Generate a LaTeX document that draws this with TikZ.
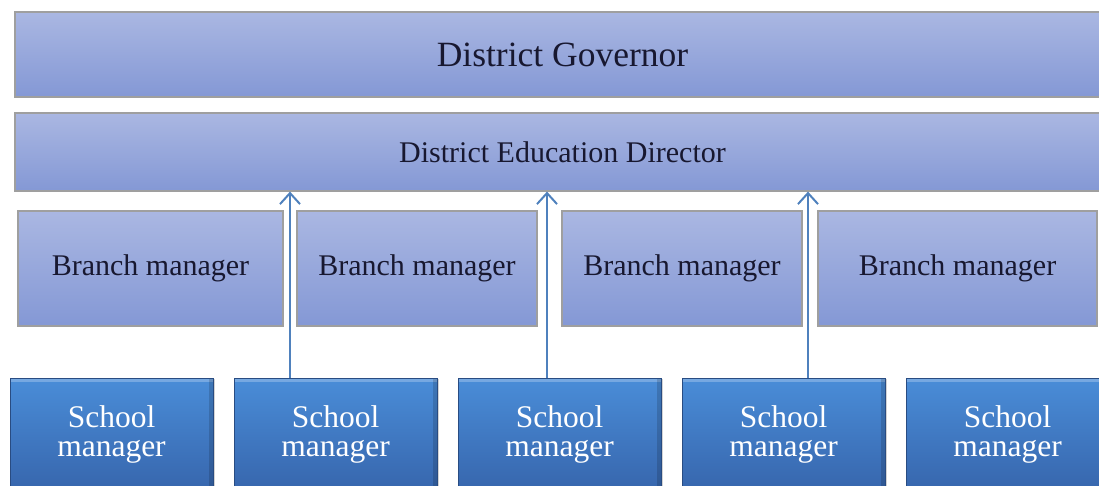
\documentclass[tikz,border=0pt]{standalone}
\usepackage{fontspec}
\setmainfont{Liberation Serif}
\usetikzlibrary{arrows.meta,shadows}
\definecolor{lavtop}{HTML}{AAB7E2}
\definecolor{lavbot}{HTML}{8498D5}
\definecolor{schtop}{HTML}{4A8DD8}
\definecolor{schbot}{HTML}{3766AD}
\definecolor{arrowblue}{HTML}{4F81BD}
\definecolor{textdark}{HTML}{181830}
\tikzstyle{office} = [rectangle, draw=gray!75, line width=1.2pt, top color=lavtop, bottom color=lavbot,
    text=textdark, inner sep=0pt, drop shadow={shadow xshift=1pt, shadow yshift=-1pt, opacity=0.3}]
\tikzstyle{branch} = [office, minimum height=115pt, font=\fontsize{30}{31}\selectfont]
\tikzstyle{school} = [rectangle, draw=schbot!75!black, line width=0.8pt, top color=schtop, bottom color=schbot,
    text=white, text width=190pt, text centered, minimum width=203pt, minimum height=112pt, inner sep=0pt,
    font=\fontsize{31.5}{29}\selectfont, node distance=224pt,
    drop shadow={shadow xshift=1.5pt, shadow yshift=-1pt, opacity=0.35},
    path picture={
        \fill [white, opacity=0.25] (path picture bounding box.north west) rectangle
            ([yshift=-4pt]path picture bounding box.north east);
        \fill [black, opacity=0.15] (path picture bounding box.north east) rectangle
            ([xshift=-4pt]path picture bounding box.south east);
    }]
\tikzstyle{report} = [draw=arrowblue, line width=2pt, -{Straight Barb[length=11pt, width=20pt]}]

\begin{document}
\begin{tikzpicture}[x=1pt, y=-1pt]
    \clip (0,0) rectangle (1099,486);
    % Place top offices
    \node [office, minimum width=1095pt, minimum height=85pt, font=\fontsize{35.5}{37}\selectfont,
        at={(562.5,54.5)}] (gov) {District Governor};
    \node [office, minimum width=1095pt, minimum height=78pt, font=\fontsize{30}{31}\selectfont,
        below of=gov, node distance=97.5pt] (ded) {District Education Director};

    % Place branch managers
    \node [branch, minimum width=265pt, at={(150.5,268.5)}] (bm1) {Branch manager};
    \node [branch, minimum width=240pt, at={(417,268.5)}] (bm2) {Branch manager};
    \node [branch, minimum width=240pt, at={(682,268.5)}] (bm3) {Branch manager};
    \node [branch, minimum width=279pt, at={(957.5,268.5)}] (bm4) {Branch manager};

    % Place school managers
    \node [school, at={(111.5,434)}] (sm1) {School\\manager};
    \node [school, right of=sm1] (sm2) {School\\manager};
    \node [school, right of=sm2] (sm3) {School\\manager};
    \node [school, right of=sm3] (sm4) {School\\manager};
    \node [school, right of=sm4] (sm5) {School\\manager};

    % Draw lines
    \coordinate (gapA) at (290,0);
    \coordinate (gapB) at (547,0);
    \coordinate (gapC) at (808,0);
    \path [report] (gapA |- sm2.north) -- (gapA |- ded.south);
    \path [report] (gapB |- sm3.north) -- (gapB |- ded.south);
    \path [report] (gapC |- sm4.north) -- (gapC |- ded.south);
\end{tikzpicture}
\end{document}
